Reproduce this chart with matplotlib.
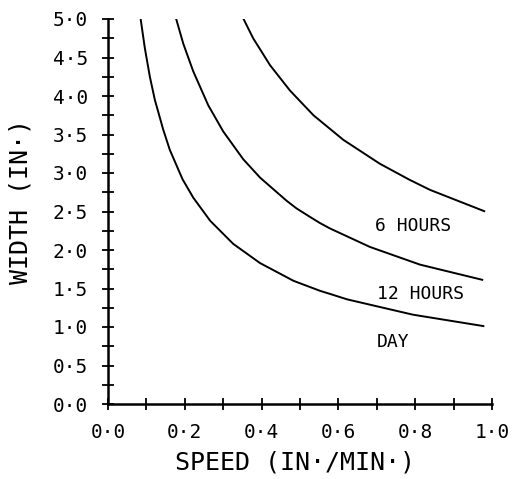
import matplotlib
matplotlib.use("Agg")
import matplotlib.pyplot as plt
from matplotlib.ticker import MultipleLocator, FuncFormatter

# Data (speed in in./min, width in in.)
day_speed = [0.085, 0.096, 0.109, 0.122, 0.144, 0.161, 0.194, 0.222, 0.266,
             0.326, 0.396, 0.483, 0.552, 0.578, 0.622, 0.682, 0.794, 0.98]
day_width = [5.00, 4.62, 4.25, 3.95, 3.56, 3.30, 2.92, 2.68, 2.38,
             2.08, 1.83, 1.60, 1.47, 1.43, 1.36, 1.29, 1.16, 1.01]

h12_speed = [0.177, 0.196, 0.222, 0.261, 0.300, 0.352, 0.396, 0.465,
             0.491, 0.526, 0.552, 0.578, 0.682, 0.8125, 0.977]
h12_width = [5.01, 4.68, 4.32, 3.88, 3.54, 3.18, 2.94, 2.64,
             2.54, 2.43, 2.35, 2.28, 2.04, 1.81, 1.61]

h6_speed = [0.351, 0.378, 0.422, 0.474, 0.535, 0.613, 0.708, 0.786, 0.839, 0.982]
h6_width = [5.02, 4.75, 4.40, 4.07, 3.75, 3.43, 3.12, 2.91, 2.78, 2.50]

curve_labels = ["6 HOURS", "12 HOURS", "DAY"]
label_x = [0.695, 0.70, 0.70]
label_y = [2.31, 1.435, 0.805]

x_label = "SPEED (IN·/MIN·)"
y_label = "WIDTH (IN·)"

font = "DejaVu Sans Mono"

fig = plt.figure(figsize=(5.18, 4.79), dpi=100)
ax = fig.add_axes([108/518, 1-404/479, 384/518, 385/479])

for s, w in [(day_speed, day_width), (h12_speed, h12_width), (h6_speed, h6_width)]:
    ax.plot(s, w, color="black", lw=1.4, solid_capstyle="butt", solid_joinstyle="round")

for t, x, y in zip(curve_labels, label_x, label_y):
    ax.text(x, y, t, fontsize=13, family=font, ha="left", va="center")

ax.set_xlim(0, 1.0)
ax.set_ylim(0, 5.0)
for sp in ["top", "right"]:
    ax.spines[sp].set_visible(False)
for sp in ["left", "bottom"]:
    ax.spines[sp].set_linewidth(1.8)

fmt = FuncFormatter(lambda v, p: f"{v:.1f}".replace(".", "·"))
ax.xaxis.set_major_locator(MultipleLocator(0.2))
ax.xaxis.set_minor_locator(MultipleLocator(0.1))
ax.yaxis.set_major_locator(MultipleLocator(0.5))
ax.yaxis.set_minor_locator(MultipleLocator(0.25))
ax.xaxis.set_major_formatter(fmt)
ax.yaxis.set_major_formatter(fmt)
ax.tick_params(which="both", direction="inout", length=9, width=1.3, color="black")
ax.tick_params(axis="x", which="major", pad=9)
ax.tick_params(axis="y", which="major", pad=10)
for lab in ax.get_xticklabels() + ax.get_yticklabels():
    lab.set_fontfamily(font)
    lab.set_fontsize(14)

ax.set_xlabel(x_label, fontsize=18, family=font)
ax.set_ylabel(y_label, fontsize=18, family=font)
ax.xaxis.label.set_va("center")
ax.yaxis.label.set_va("center")
ax.xaxis.set_label_coords(0.487, -0.151)
ax.yaxis.set_label_coords(-0.229, 0.525)

fig.savefig("out.png", dpi=100)
